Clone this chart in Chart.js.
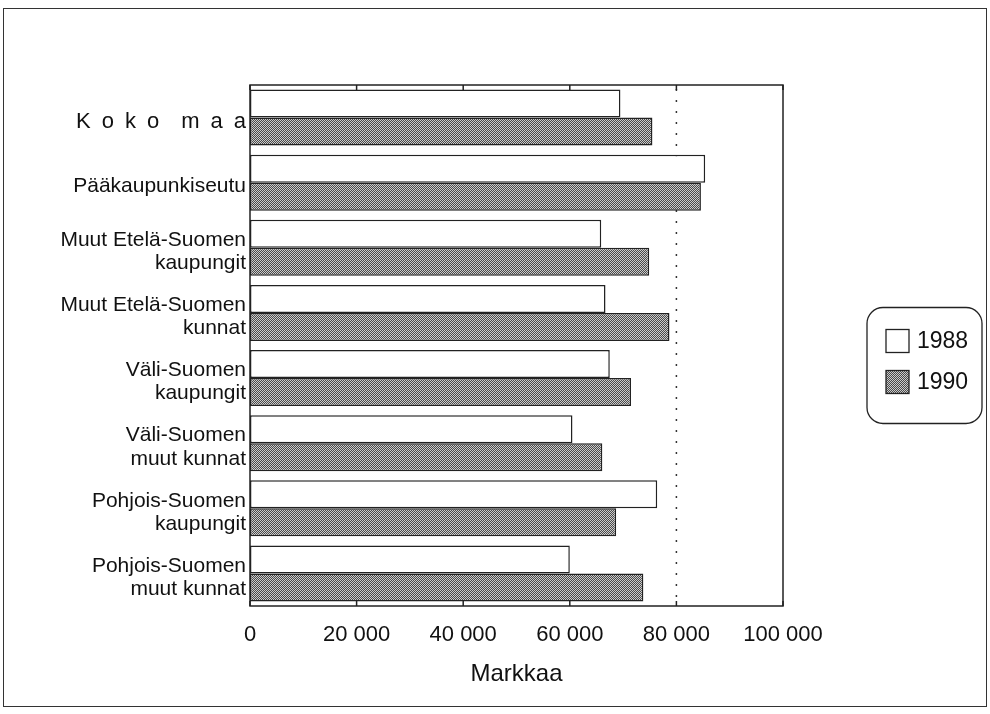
<!DOCTYPE html>
<html>
<head>
<meta charset="utf-8">
<script src="https://cdn.jsdelivr.net/npm/chart.js@4.4.0/dist/chart.umd.min.js"></script>
<style>
body { margin: 0; background: #fff; }
#frame { position: absolute; left: 3px; top: 8px; width: 982px; height: 697px; border: 1px solid #333; }
canvas { display: block; }
</style>
</head>
<body>
<div id="frame"><canvas id="chart" width="982" height="697"></canvas></div>
<script>
// data
const categories = [
  'K\u2002o\u2002k\u2002o\u2003m\u2002a\u2002a',
  'Pääkaupunkiseutu',
  ['Muut Etelä-Suomen', 'kaupungit'],
  ['Muut Etelä-Suomen', 'kunnat'],
  ['Väli-Suomen', 'kaupungit'],
  ['Väli-Suomen', 'muut kunnat'],
  ['Pohjois-Suomen', 'kaupungit'],
  ['Pohjois-Suomen', 'muut kunnat']
];
const values1988 = [69500, 85400, 65900, 66700, 67500, 60500, 76400, 60000];
const values1990 = [75500, 84600, 74900, 78700, 71500, 66100, 68700, 73800];
const seriesLabels = ['1988', '1990'];
const xTicks = [0, 20000, 40000, 60000, 80000, 100000];
const refLine = 80000;

Chart.defaults.font.family = '"Liberation Sans", Arial, Helvetica, sans-serif';
Chart.defaults.color = '#111';

// harmaa pistekuvio 1990-palkeille
function makePattern() {
  const c = document.createElement('canvas');
  c.width = 2; c.height = 2;
  const g = c.getContext('2d');
  g.fillStyle = '#cccccc';
  g.fillRect(0, 0, 2, 2);
  g.fillStyle = '#4a4a4a';
  g.fillRect(0, 0, 1, 1);
  g.fillRect(1, 1, 1, 1);
  return g.createPattern(c, 'repeat');
}
const dotted = makePattern();

function fmt(v) {
  return String(v).replace(/\B(?=(\d{3})+(?!\d))/g, ' ');
}

function roundBox(ctx, x, y, w, h, r) {
  ctx.beginPath();
  ctx.moveTo(x + r, y);
  ctx.arcTo(x + w, y, x + w, y + h, r);
  ctx.arcTo(x + w, y + h, x, y + h, r);
  ctx.arcTo(x, y + h, x, y, r);
  ctx.arcTo(x, y, x + w, y, r);
  ctx.closePath();
}

const decor = {
  id: 'decor',
  beforeDatasetsDraw(chart) {
    const { ctx, chartArea: a, scales: { x } } = chart;
    const px = x.getPixelForValue(refLine);
    ctx.save();
    ctx.strokeStyle = '#333';
    ctx.lineWidth = 1.5;
    ctx.setLineDash([2, 9]);
    ctx.beginPath();
    ctx.moveTo(px, a.top + 4);
    ctx.lineTo(px, a.bottom);
    ctx.stroke();
    ctx.restore();
  },
  afterDraw(chart) {
    const { ctx, chartArea: a, scales: { x } } = chart;
    ctx.save();
    ctx.strokeStyle = '#222';
    ctx.lineWidth = 1.5;
    ctx.strokeRect(a.left, a.top, a.width, a.height);
    // pienet sisäänpäin olevat jakoviivat
    x.ticks.forEach(t => {
      const px = x.getPixelForValue(t.value);
      ctx.beginPath();
      ctx.moveTo(px, a.top); ctx.lineTo(px, a.top + 5);
      ctx.moveTo(px, a.bottom); ctx.lineTo(px, a.bottom - 5);
      ctx.stroke();
    });

    // selite pyöristetyssä laatikossa
    const lx = a.right + 84, ly = (a.top + a.bottom) / 2 - 38, lw = 115, lh = 116;
    ctx.lineWidth = 1.3;
    roundBox(ctx, lx, ly, lw, lh, 16);
    ctx.stroke();
    ctx.font = '23px "Liberation Sans", Arial, sans-serif';
    ctx.textBaseline = 'middle';
    chart.data.datasets.forEach((ds, i) => {
      const cy = ly + 33 + i * 41;
      ctx.fillStyle = ds.backgroundColor;
      ctx.fillRect(lx + 19, cy - 11, 23, 23);
      ctx.strokeRect(lx + 19, cy - 11, 23, 23);
      ctx.fillStyle = '#111';
      ctx.fillText(ds.label, lx + 50, cy + 1);
    });
    ctx.restore();
  }
};

new Chart(document.getElementById('chart'), {
  type: 'bar',
  data: {
    labels: categories,
    datasets: [
      {
        label: seriesLabels[0],
        data: values1988,
        backgroundColor: '#ffffff',
        borderColor: '#222',
        borderWidth: 1.5,
        borderSkipped: false
      },
      {
        label: seriesLabels[1],
        data: values1990,
        backgroundColor: dotted,
        borderColor: '#222',
        borderWidth: 1.5,
        borderSkipped: false
      }
    ]
  },
  options: {
    indexAxis: 'y',
    responsive: false,
    animation: false,
    datasets: { bar: { categoryPercentage: 0.86, barPercentage: 1.0 } },
    layout: { padding: { left: 0, right: 203, top: 76, bottom: 0 } },
    plugins: { legend: { display: false }, tooltip: { enabled: false } },
    scales: {
      x: {
        min: 0,
        max: 100000,
        grid: { display: false, drawTicks: false },
        border: { display: false },
        afterBuildTicks: s => { s.ticks = xTicks.map(v => ({ value: v })); },
        afterFit: s => { s.height = 100; },
        ticks: { padding: 16, font: { size: 22 }, callback: v => fmt(v) },
        title: { display: true, text: 'Markkaa', font: { size: 24 }, padding: { top: 0, bottom: 17 } }
      },
      y: {
        grid: { display: false, drawTicks: false },
        border: { display: false },
        afterFit: s => { s.width = 246; },
        ticks: {
          padding: 4,
          labelOffset: 4,
          font: c => c.index === 0 ? { size: 22 } : { size: 21, lineHeight: 1.1 }
        }
      }
    }
  },
  plugins: [decor]
});
</script>
</body>
</html>
